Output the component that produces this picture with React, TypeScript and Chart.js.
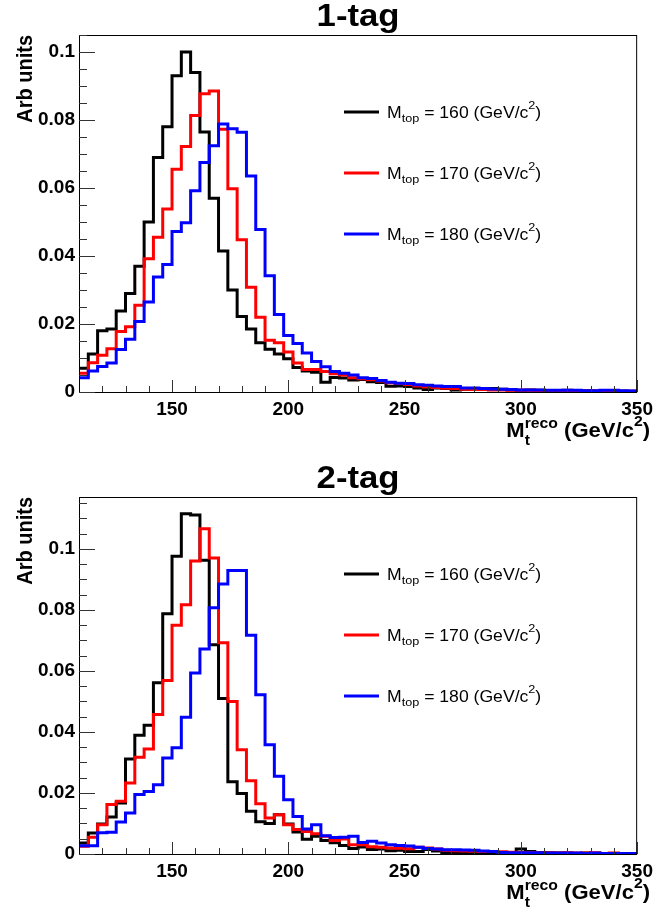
import React, { useEffect, useRef } from "react";
import { Chart, registerables } from "chart.js";
Chart.register(...registerables);

// ---------------- data ----------------
const X_MIN = 110;
const X_MAX = 350;
const BIN_WIDTH = 4;
const X_TICKS = [150, 200, 250, 300, 350];
const Y_TICKS = [0, 0.02, 0.04, 0.06, 0.08, 0.1];
const PANEL_TITLES = ["1-tag", "2-tag"];
const Y_MAXES = [0.105, 0.117];
const MASSES = [160, 170, 180];
const COLORS = ["#000000", "#ff0000", "#0000ff"];
const Y_TITLE = "Arb units";

const TAG1_M160 = [
  0.0070, 0.0112, 0.0180, 0.0185, 0.0238, 0.0290, 0.0370, 0.0500, 0.0690, 0.0780,
  0.0930, 0.1000, 0.0940, 0.0765, 0.0570, 0.0415, 0.0300, 0.0222, 0.0185, 0.0145,
  0.0126, 0.0112, 0.0098, 0.0072, 0.0062, 0.0058, 0.0029, 0.0043, 0.0041, 0.0035,
  0.0037, 0.0030, 0.0028, 0.0017, 0.0018, 0.0016, 0.0012, 0.0007, 0.0012, 0.0010,
  0.0006, 0.0008, 0.0010, 0.0008, 0.0010, 0.0008, 0.0006, 0.0005, 0.0006, 0.0005,
  0.0004, 0.0004, 0.0005, 0.0003, 0.0004, 0.0003, 0.0002, 0.0003, 0.0002, 0.0002,
];
const TAG1_M170 = [
  0.0055, 0.0086, 0.0108, 0.0127, 0.0178, 0.0192, 0.0255, 0.0392, 0.0455, 0.0538,
  0.0655, 0.0722, 0.0813, 0.0877, 0.0885, 0.0773, 0.0598, 0.0448, 0.0308, 0.0220,
  0.0152, 0.0145, 0.0118, 0.0085, 0.0066, 0.0066, 0.0060, 0.0054, 0.0050, 0.0042,
  0.0039, 0.0036, 0.0032, 0.0027, 0.0025, 0.0022, 0.0018, 0.0015, 0.0013, 0.0011,
  0.0010, 0.0008, 0.0007, 0.0007, 0.0006, 0.0006, 0.0005, 0.0005, 0.0005, 0.0004,
  0.0004, 0.0004, 0.0003, 0.0003, 0.0003, 0.0003, 0.0002, 0.0002, 0.0002, 0.0002,
];
const TAG1_M180 = [
  0.0042, 0.0062, 0.0075, 0.0085, 0.0125, 0.0155, 0.0207, 0.0265, 0.0338, 0.0375,
  0.0472, 0.0498, 0.0592, 0.0675, 0.0724, 0.0788, 0.0774, 0.0764, 0.0635, 0.0478,
  0.0342, 0.0228, 0.0166, 0.0143, 0.0115, 0.0090, 0.0074, 0.0060, 0.0055, 0.0050,
  0.0042, 0.0040, 0.0034, 0.0029, 0.0026, 0.0025, 0.0021, 0.0020, 0.0018, 0.0016,
  0.0016, 0.0012, 0.0012, 0.0010, 0.0009, 0.0008, 0.0007, 0.0006, 0.0006, 0.0006,
  0.0005, 0.0005, 0.0005, 0.0005, 0.0004, 0.0004, 0.0005, 0.0005, 0.0004, 0.0003,
];
const TAG2_M160 = [
  0.0036, 0.0069, 0.0098, 0.0121, 0.0167, 0.0311, 0.0389, 0.0422, 0.0561, 0.0787,
  0.0976, 0.1115, 0.1111, 0.0963, 0.0686, 0.0510, 0.0237, 0.0198, 0.0140, 0.0106,
  0.0100, 0.0129, 0.0098, 0.0072, 0.0048, 0.0058, 0.0044, 0.0037, 0.0028, 0.0018,
  0.0023, 0.0015, 0.0016, 0.0011, 0.0012, 0.0008, 0.0008, 0.0015, 0.0010, 0.0004,
  0.0003, 0.0003, 0.0004, 0.0005, 0.0004, 0.0004, 0.0005, 0.0016, 0.0008, 0.0005,
  0.0004, 0.0003, 0.0003, 0.0002, 0.0003, 0.0002, 0.0002, 0.0002, 0.0001, 0.0002,
];
const TAG2_M170 = [
  0.0025, 0.0055, 0.0096, 0.0162, 0.0173, 0.0233, 0.0317, 0.0344, 0.0457, 0.0569,
  0.0750, 0.0817, 0.0960, 0.1066, 0.0970, 0.0692, 0.0500, 0.0342, 0.0240, 0.0165,
  0.0118, 0.0129, 0.0096, 0.0080, 0.0074, 0.0066, 0.0058, 0.0044, 0.0049, 0.0030,
  0.0030, 0.0024, 0.0022, 0.0020, 0.0019, 0.0017, 0.0022, 0.0020, 0.0016, 0.0012,
  0.0011, 0.0010, 0.0009, 0.0008, 0.0008, 0.0007, 0.0006, 0.0005, 0.0005, 0.0004,
  0.0004, 0.0003, 0.0004, 0.0003, 0.0003, 0.0004, 0.0002, 0.0003, 0.0002, 0.0002,
];
const TAG2_M180 = [
  0.0027, 0.0027, 0.0070, 0.0071, 0.0105, 0.0134, 0.0195, 0.0205, 0.0227, 0.0315,
  0.0348, 0.0448, 0.0593, 0.0672, 0.0807, 0.0885, 0.0929, 0.0929, 0.0717, 0.0522,
  0.0358, 0.0255, 0.0178, 0.0123, 0.0082, 0.0096, 0.0060, 0.0054, 0.0055, 0.0058,
  0.0038, 0.0042, 0.0036, 0.0030, 0.0028, 0.0026, 0.0022, 0.0018, 0.0016, 0.0014,
  0.0014, 0.0013, 0.0012, 0.0010, 0.0008, 0.0005, 0.0004, 0.0004, 0.0004, 0.0004,
  0.0003, 0.0003, 0.0003, 0.0003, 0.0002, 0.0003, 0.0002, 0.0002, 0.0002, 0.0002,
];

const PANEL_SERIES = [
  [TAG1_M160, TAG1_M170, TAG1_M180],
  [TAG2_M160, TAG2_M170, TAG2_M180],
];

// ---------------- layout / style ----------------
const W = 659;
const H = 454;
const PLOT_LEFT = 79;
const PLOT_RIGHT = 641;
const PLOT_TOPS = [35, 43];
const X_AXIS_HEIGHTS = [62, 54];
const FONT = '"Liberation Sans", Arial, Helvetica, sans-serif';

type Part = { t: string; size: number; bold?: boolean; dy?: number; stack?: boolean };

function fontOf(p: Part) {
  return `${p.bold ? "bold " : ""}${p.size}px ${FONT}`;
}

function layoutParts(ctx: CanvasRenderingContext2D, parts: Part[]) {
  let x = 0;
  let prevStart = 0;
  let prevW = 0;
  const pos: number[] = [];
  for (const p of parts) {
    ctx.font = fontOf(p);
    const w = ctx.measureText(p.t).width;
    if (p.stack) {
      pos.push(prevStart);
      prevW = Math.max(prevW, w);
      x = prevStart + prevW;
    } else {
      pos.push(x);
      prevStart = x;
      prevW = w;
      x += w;
    }
  }
  return { pos, width: x };
}

function drawRich(
  ctx: CanvasRenderingContext2D,
  parts: Part[],
  x: number,
  y: number,
  align: "left" | "right" | "center",
  sx: number
) {
  const { pos, width } = layoutParts(ctx, parts);
  const w = width * sx;
  const start = align === "right" ? x - w : align === "center" ? x - w / 2 : x;
  ctx.save();
  ctx.translate(start, y);
  ctx.scale(sx, 1);
  ctx.textAlign = "left";
  ctx.textBaseline = "alphabetic";
  ctx.fillStyle = "#000";
  parts.forEach((p, i) => {
    ctx.font = fontOf(p);
    ctx.fillText(p.t, pos[i], p.dy || 0);
  });
  ctx.restore();
}

function makeDecorPlugin(panelIndex: number) {
  return {
    id: "rootDecor" + panelIndex,
    afterDraw(chart: any) {
      const ctx: CanvasRenderingContext2D = chart.ctx;
      const a = chart.chartArea;
      const xs = chart.scales.x;
      const ys = chart.scales.y;
      ctx.save();
      // frame
      ctx.strokeStyle = "#000";
      ctx.lineWidth = 1;
      ctx.strokeRect(a.left + 0.5, a.top + 0.5, a.right - a.left - 1, a.bottom - a.top);
      // y ticks (inside)
      ctx.strokeStyle = "#333";
      const yMax = Y_MAXES[panelIndex];
      for (let i = 0; i * 0.005 <= yMax + 1e-9; i++) {
        const v = i * 0.005;
        const py = Math.round(ys.getPixelForValue(v)) + 0.5;
        const len = i % 4 === 0 ? 16 : 8;
        ctx.beginPath();
        ctx.moveTo(a.left, py);
        ctx.lineTo(a.left + len, py);
        ctx.stroke();
      }
      // x ticks (inside)
      for (let v = X_MIN + 10; v <= X_MAX; v += 10) {
        const px = Math.round(xs.getPixelForValue(v)) + 0.5;
        const len = v % 50 === 0 ? 12 : 6;
        ctx.beginPath();
        ctx.moveTo(px, a.bottom);
        ctx.lineTo(px, a.bottom - len);
        ctx.stroke();
      }
      ctx.restore();

      // title
      drawRich(
        ctx,
        [{ t: PANEL_TITLES[panelIndex], size: 31, bold: true }],
        (a.left + a.right) / 2,
        a.top - 9,
        "center",
        1.12
      );

      // y axis title
      ctx.save();
      ctx.translate(32, a.top);
      ctx.rotate(-Math.PI / 2);
      ctx.scale(1, 1.08);
      ctx.font = `bold 20px ${FONT}`;
      ctx.fillStyle = "#000";
      ctx.textAlign = "right";
      ctx.textBaseline = "alphabetic";
      ctx.fillText(Y_TITLE, 0, 0);
      ctx.restore();

      // x axis title
      drawRich(
        ctx,
        [
          { t: "M", size: 21, bold: true },
          { t: "t", size: 15, bold: true, dy: 8 },
          { t: "reco", size: 15, bold: true, dy: -9, stack: true },
          { t: " (GeV/c", size: 21, bold: true },
          { t: "2", size: 15, bold: true, dy: -11 },
          { t: ")", size: 21, bold: true },
        ],
        650,
        a.bottom + 44.7,
        "right",
        1.05
      );

      // legend
      const rows = [77, 138, 199];
      MASSES.forEach((m, i) => {
        const ly = a.top + rows[i];
        ctx.save();
        ctx.strokeStyle = COLORS[i];
        ctx.lineWidth = 3;
        ctx.beginPath();
        ctx.moveTo(344, ly);
        ctx.lineTo(379, ly);
        ctx.stroke();
        ctx.restore();
        drawRich(
          ctx,
          [
            { t: "M", size: 16 },
            { t: "top", size: 11.5, dy: 4.5 },
            { t: ` = ${m} (GeV/c`, size: 16 },
            { t: "2", size: 11.5, dy: -8.5 },
            { t: ")", size: 16 },
          ],
          387,
          ly + 5.8,
          "left",
          1.1
        );
      });
    },
  };
}

function Panel({ index }: { index: number }) {
  const ref = useRef<HTMLCanvasElement | null>(null);
  useEffect(() => {
    if (!ref.current) return;
    const series = PANEL_SERIES[index];
    const datasets = series.map((vals, i) => ({
      label: `M_top = ${MASSES[i]}`,
      data: [
        ...vals.map((v, k) => ({ x: X_MIN + k * BIN_WIDTH, y: v })),
        { x: X_MAX, y: vals[vals.length - 1] },
      ],
      borderColor: COLORS[i],
      backgroundColor: COLORS[i],
      borderWidth: 3,
      stepped: true,
      pointRadius: 0,
      fill: false,
      order: 3 - i,
    }));
    const chart = new Chart(ref.current, {
      type: "line",
      data: { datasets } as any,
      options: {
        animation: false,
        responsive: false,
        devicePixelRatio: 1,
        layout: {
          padding: { left: 0, right: W - PLOT_RIGHT, top: PLOT_TOPS[index], bottom: 0 },
        },
        plugins: { legend: { display: false }, tooltip: { enabled: false }, title: { display: false } },
        scales: {
          x: {
            type: "linear",
            min: X_MIN,
            max: X_MAX,
            grid: { display: false, drawTicks: false },
            border: { display: false },
            ticks: {
              color: "#000",
              font: { family: FONT, size: 19, weight: "bold" },
              padding: 6,
              maxRotation: 0,
              autoSkip: false,
              callback: (v: any) => String(v),
            },
            afterBuildTicks: (s: any) => {
              s.ticks = X_TICKS.map((v) => ({ value: v }));
            },
            afterFit: (s: any) => {
              s.height = X_AXIS_HEIGHTS[index];
            },
          },
          y: {
            type: "linear",
            min: 0,
            max: Y_MAXES[index],
            grid: { display: false, drawTicks: false },
            border: { display: false },
            ticks: {
              color: "#000",
              font: { family: FONT, size: 19, weight: "bold" },
              padding: 4,
              autoSkip: false,
              callback: (v: any) => String(v),
            },
            afterBuildTicks: (s: any) => {
              s.ticks = Y_TICKS.map((v) => ({ value: v }));
            },
            afterFit: (s: any) => {
              s.width = PLOT_LEFT;
            },
          },
        },
      } as any,
      plugins: [makeDecorPlugin(index)],
    });
    return () => chart.destroy();
  }, [index]);
  return <canvas ref={ref} width={W} height={H} style={{ display: "block", width: W, height: H }} />;
}

export default function App() {
  return (
    <div style={{ position: "absolute", left: 0, top: 0, width: W, height: 908, background: "#fff" }}>
      <Panel index={0} />
      <Panel index={1} />
    </div>
  );
}
